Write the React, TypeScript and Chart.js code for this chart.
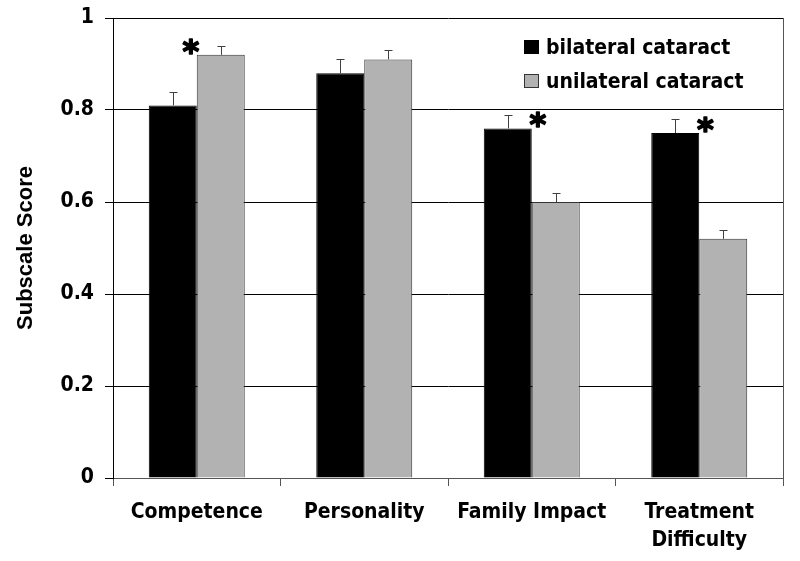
import React, { useEffect, useRef } from "react";
import { Chart, registerables } from "chart.js";

Chart.register(...registerables);

const categories: (string | string[])[] = ["Competence", "Personality", "Family Impact", ["Treatment", "Difficulty"]];
const seriesNames = ["bilateral cataract", "unilateral cataract"];
const bilateral = [0.81, 0.88, 0.76, 0.75];
const unilateral = [0.92, 0.91, 0.6, 0.52];
const bilateralErr = [0.03, 0.03, 0.03, 0.03];
const unilateralErr = [0.02, 0.02, 0.02, 0.02];
const significant = [true, false, true, true];
const yTickLabels = ["0", "0.2", "0.4", "0.6", "0.8", "1"];
const yTitle = "Subscale Score";

const BAR_COLORS = ["#000000", "#b2b2b2"];
const BAR_BORDERS = ["#000000", "#333333"];
const TICK_FONT = "'DejaVu Sans Condensed', 'DejaVu Sans', sans-serif";

const errorBarsPlugin = {
  id: "errorBars",
  afterDatasetsDraw(chart: any) {
    const ctx = chart.ctx;
    const yScale = chart.scales.y;
    const errs = [bilateralErr, unilateralErr];
    ctx.save();
    ctx.strokeStyle = "#404040";
    ctx.lineWidth = 1;
    chart.data.datasets.forEach((ds: any, i: number) => {
      const meta = chart.getDatasetMeta(i);
      meta.data.forEach((el: any, j: number) => {
        const v = ds.data[j];
        const top = yScale.getPixelForValue(v + errs[i][j]);
        const x = Math.round(el.x) + 0.5;
        ctx.beginPath();
        ctx.moveTo(x, el.y);
        ctx.lineTo(x, Math.round(top) + 0.5);
        ctx.moveTo(x - 4, Math.round(top) + 0.5);
        ctx.lineTo(x + 4, Math.round(top) + 0.5);
        ctx.stroke();
      });
    });
    // significance asterisks
    const m0 = chart.getDatasetMeta(0);
    const m1 = chart.getDatasetMeta(1);
    ctx.fillStyle = "#000";
    ctx.strokeStyle = "#000";
    ctx.lineWidth = 1.6;
    ctx.lineJoin = "round";
    ctx.font = "bold 32px 'DejaVu Sans', sans-serif";
    ctx.textAlign = "center";
    ctx.textBaseline = "alphabetic";
    significant.forEach((s, j) => {
      if (!s) return;
      const a = m0.data[j];
      const b = m1.data[j];
      const center = (a.x + a.width / 2 + b.x - b.width / 2) / 2;
      const tallerIsFirst = bilateral[j] >= unilateral[j];
      const topY = Math.min(a.y, b.y);
      const x = tallerIsFirst ? center + 6 : center - 6;
      const cy = topY - 10;
      ctx.fillText("*", x, cy + 17);
      ctx.strokeText("*", x, cy + 17);
    });
    ctx.restore();
  },
};

const framePlugin = {
  id: "frame",
  afterDraw(chart: any) {
    const { ctx, chartArea } = chart;
    ctx.save();
    ctx.strokeStyle = "#555";
    ctx.lineWidth = 1;
    ctx.beginPath();
    ctx.moveTo(Math.round(chartArea.right) + 0.5, chartArea.top);
    ctx.lineTo(Math.round(chartArea.right) + 0.5, chartArea.bottom);
    ctx.stroke();

    // legend inside the plot, top right
    const boxX = chartArea.right - 259;
    const textX = chartArea.right - 237;
    const baselines = [chartArea.top + 36, chartArea.top + 70];
    ctx.font = `bold 21px ${TICK_FONT}`;
    ctx.textAlign = "left";
    ctx.textBaseline = "alphabetic";
    seriesNames.forEach((name, i) => {
      const by = baselines[i];
      ctx.fillStyle = BAR_COLORS[i];
      ctx.fillRect(boxX, by - 14, 15, 14);
      if (i === 1) {
        ctx.strokeStyle = BAR_BORDERS[i];
        ctx.strokeRect(boxX + 0.5, by - 13.5, 14, 13);
      }
      ctx.fillStyle = "#000";
      ctx.fillText(name, textX, by);
    });
    ctx.restore();
  },
};

export default function App() {
  const canvasRef = useRef<HTMLCanvasElement>(null);

  useEffect(() => {
    document.body.style.margin = "0";
    const canvas = canvasRef.current!;
    const chart = new Chart(canvas, {
      type: "bar",
      data: {
        labels: categories,
        datasets: [
          {
            label: seriesNames[0],
            data: bilateral,
            backgroundColor: BAR_COLORS[0],
            borderColor: BAR_BORDERS[0],
            borderWidth: 1,
            barPercentage: 1,
            categoryPercentage: 0.573,
          },
          {
            label: seriesNames[1],
            data: unilateral,
            backgroundColor: BAR_COLORS[1],
            borderColor: BAR_BORDERS[1],
            borderWidth: 1,
            barPercentage: 1,
            categoryPercentage: 0.573,
          },
        ],
      },
      options: {
        responsive: false,
        animation: false,
        devicePixelRatio: 1,
        layout: { padding: { left: 0, top: 18, right: 17, bottom: 0 } },
        plugins: {
          legend: { display: false },
          tooltip: { enabled: false },
        },
        scales: {
          x: {
            grid: {
              display: true,
              drawOnChartArea: false,
              drawTicks: true,
              tickLength: 8,
              offset: true,
              color: "#555",
            },
            border: { display: true, color: "#555" },
            ticks: {
              color: "#000",
              padding: 12,
              maxRotation: 0,
              autoSkip: false,
              font: { family: TICK_FONT, size: 21, weight: "bold", lineHeight: 1.35 },
            },
            afterFit: (scale: any) => {
              scale.height = 83;
              scale.paddingLeft = 0;
              scale.paddingRight = 0;
            },
          },
          y: {
            min: 0,
            max: 1,
            ticks: {
              stepSize: 0.2,
              color: "#000",
              padding: 11,
              font: { family: TICK_FONT, size: 21, weight: "bold" },
              callback: (_v: any, i: number) => yTickLabels[i],
            },
            grid: {
              color: "#000",
              lineWidth: 1,
              drawTicks: true,
              tickLength: 8,
            },
            border: { display: true, color: "#000" },
            title: {
              display: true,
              text: yTitle,
              color: "#000",
              padding: { top: 13, bottom: 0 },
              font: { family: "'Liberation Sans', Arial, sans-serif", size: 22, weight: "bold" },
            },
            afterFit: (scale: any) => {
              scale.width = 113;
              scale.paddingTop = 0;
              scale.paddingBottom = 0;
            },
          },
        },
      },
      plugins: [errorBarsPlugin, framePlugin],
    });
    return () => chart.destroy();
  }, []);

  return (
    <div style={{ width: 800, height: 561 }}>
      <canvas ref={canvasRef} width={800} height={561} style={{ display: "block" }} />
    </div>
  );
}
